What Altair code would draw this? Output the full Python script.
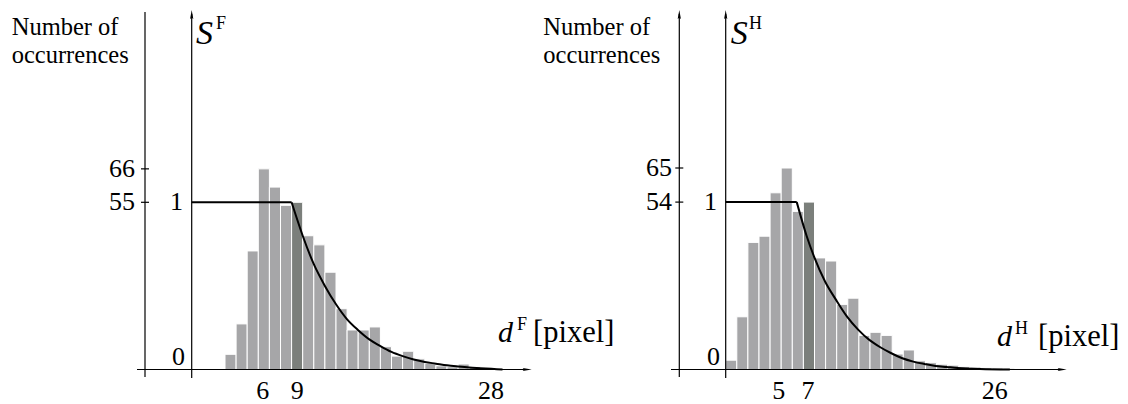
import altair as alt
import pandas as pd

# ---------------- data ----------------
left_d = list(range(3, 28))
left_counts = [5, 15, 39, 66, 60, 54, 55, 44, 41, 32, 20, 13, 13, 14, 7.5, 4.4, 6,
               3.5, 2, 1.2, 0.9, 1.8, 1, 0.5, 0.3]
left_highlight = 9
left_curve_d = [0, 9, 10, 11, 12, 13, 14, 15, 16, 17, 18, 19, 20, 21, 22, 23, 24,
                25, 26, 27, 28]
left_curve_s = [1, 1, 0.80, 0.63, 0.50, 0.39, 0.30, 0.235, 0.18, 0.14, 0.105, 0.08,
                0.06, 0.045, 0.035, 0.025, 0.018, 0.012, 0.008, 0.004, 0.0]
left_kink = 9
left_count_ticks = [66, 55]
left_x_ticks = [6, 9, 28]

right_d = list(range(0, 26))
right_counts = [3, 17, 41, 43, 57, 65, 51, 54, 36, 35, 21, 23, 11, 12, 11, 5, 6.3,
                2.8, 2.2, 1.7, 1.4, 1.0, 0.8, 0.6, 0.5, 0.4]
right_highlight = 7
right_curve_d = [0, 6.4, 7.3, 7.95, 8.95, 9.94, 10.93, 11.95, 12.94, 13.93, 14.92,
                 15.91, 16.9, 17.9, 18.9, 19.9, 20.9, 22.9, 25.6]
right_curve_s = [1, 1, 0.796, 0.676, 0.526, 0.416, 0.316, 0.237, 0.177, 0.133, 0.097,
                 0.067, 0.047, 0.033, 0.021, 0.015, 0.009, 0.003, 0.0]
right_kink = 6.4
right_count_ticks = [65, 54]
right_x_ticks = [5, 7, 26]

s_ticks = [1, 0]
count_title = ["Number of", "occurrences"]
left_names = {"s": "S", "sup": "F", "d": "d", "unit": "[pixel]"}
right_names = {"s": "S", "sup": "H", "d": "d", "unit": "[pixel]"}

# ---------------- layout / style ----------------
W, H = 1112, 396
PXD = 11.1
FONT = "Liberation Serif"
LIGHT = "#a6a6a8"
DARK = "#7b7f7b"
AXW = 1.2

P = {
    "L": dict(axis0=183.7, base=361.5, ppc=3.04, sref=55, outer=137.0, outer_top=4,
              outer_arrow=False, xstart=129, xtip=523.7, lab_right=127,
              one_right=175, zero_right=177, title_x=3.7,
              s_x=188, sup_x=208, d_x=490, dsup_x=509, unit_x=525, d_base=334,
              xnudge=[-1, 0, -17]),
    "R": dict(axis0=717.7, base=361.5, ppc=3.1, sref=54, outer=671.3, outer_top=6,
              outer_arrow=True, xstart=663, xtip=1058.7, lab_right=664,
              one_right=709, zero_right=712, title_x=535.3,
              s_x=722.7, sup_x=741, d_x=989, dsup_x=1007, unit_x=1030, d_base=338,
              xnudge=[-8, -1, -25]),
}

ONE = pd.DataFrame({"k": [0]})
UP = "M0,-1L-0.36,1L0,0.7L0.36,1Z"
RIGHT = "M1,0L-1,-0.36L-0.7,0L-1,0.36Z"


def xs(p):
    return alt.Scale(domain=[-p["axis0"] / PXD, (W - p["axis0"]) / PXD], nice=False, zero=False)


def ycs(p):
    return alt.Scale(domain=[(p["base"] - H) / p["ppc"], p["base"] / p["ppc"]], nice=False, zero=False)


def yss(p):
    k = p["ppc"] * p["sref"]
    return alt.Scale(domain=[(p["base"] - H) / k, p["base"] / k], nice=False, zero=False)


def txt(s, x, y, size=26, italic=False, align="left", baseline="alphabetic"):
    return alt.Chart(ONE).mark_text(
        text=s, font=FONT, fontSize=size, fontStyle="italic" if italic else "normal",
        align=align, baseline=baseline, color="black"
    ).encode(x=alt.value(x), y=alt.value(y))


def vrule(x, y1, y2):
    return alt.Chart(ONE).mark_rule(color="black", strokeWidth=AXW).encode(
        x=alt.value(x), y=alt.value(y1), y2=alt.value(y2))


def hrule(y, x1, x2):
    return alt.Chart(ONE).mark_rule(color="black", strokeWidth=AXW).encode(
        y=alt.value(y), x=alt.value(x1), x2=alt.value(x2))


def arrow(x, y, shape):
    return alt.Chart(ONE).mark_point(shape=shape, filled=True, color="black", opacity=1,
                                     size=81, strokeWidth=0).encode(
        x=alt.value(x), y=alt.value(y))


def panel(key, d, counts, hl, cd, cs, kink, cticks, xticks, names):
    p = P[key]
    layers = []
    bars = pd.DataFrame({"d": d, "count": counts})
    layers.append(
        alt.Chart(bars).transform_calculate(d_end="datum.d + 1").mark_rect(
            stroke="white", strokeWidth=1).encode(
            x=alt.X("d:Q", scale=xs(p), axis=None),
            x2="d_end:Q",
            y=alt.Y("count:Q", scale=ycs(p), axis=None),
            y2=alt.Y2(datum=0),
            color=alt.condition(alt.datum.d == hl, alt.value(DARK), alt.value(LIGHT)),
        ))
    curve = pd.DataFrame({"d": cd, "s": cs})
    layers.append(
        alt.Chart(curve).transform_filter(alt.datum.d <= kink).mark_line(
            color="black", strokeWidth=2).encode(
            x=alt.X("d:Q", scale=xs(p), axis=None),
            y=alt.Y("s:Q", scale=yss(p), axis=None)))
    layers.append(
        alt.Chart(curve).transform_filter(alt.datum.d >= kink).mark_line(
            color="black", strokeWidth=2, interpolate="monotone").encode(
            x=alt.X("d:Q", scale=xs(p), axis=None),
            y=alt.Y("s:Q", scale=yss(p), axis=None)))
    # axes
    layers.append(vrule(p["outer"], p["outer_top"], 369))
    if p["outer_arrow"]:
        layers.append(arrow(p["outer"], 6.5, UP))
    layers.append(vrule(p["axis0"], 6, 370))
    layers.append(arrow(p["axis0"], 6.5, UP))
    layers.append(hrule(p["base"], p["xstart"], p["xtip"] - 4))
    layers.append(arrow(p["xtip"] - 4.5, p["base"], RIGHT))
    ct = pd.DataFrame({"v": cticks})
    layers.append(
        alt.Chart(ct).mark_rule(color="black", strokeWidth=AXW).encode(
            y=alt.Y("v:Q", scale=ycs(p), axis=None),
            x=alt.value(p["outer"] - 4), x2=alt.value(p["outer"] + 4)))
    layers.append(
        alt.Chart(ct).mark_text(font=FONT, fontSize=26, align="right", baseline="middle",
                                color="black").encode(
            y=alt.Y("v:Q", scale=ycs(p), axis=None),
            x=alt.value(p["lab_right"]), text="v:Q"))
    # S-axis labels
    layers.append(
        alt.Chart(pd.DataFrame({"v": [s_ticks[0]]})).mark_text(
            font=FONT, fontSize=26, align="right", baseline="middle", color="black").encode(
            y=alt.Y("v:Q", scale=yss(p), axis=None), x=alt.value(p["one_right"]), text="v:Q"))
    layers.append(
        alt.Chart(pd.DataFrame({"v": [s_ticks[1]]})).mark_text(
            font=FONT, fontSize=26, align="right", baseline="middle", color="black", dy=-13).encode(
            y=alt.Y("v:Q", scale=yss(p), axis=None), x=alt.value(p["zero_right"]), text="v:Q"))
    # x tick labels
    for v, nud in zip(xticks, p["xnudge"]):
        layers.append(
            alt.Chart(pd.DataFrame({"v": [v]})).transform_calculate(pos="datum.v + 0.5").mark_text(
                font=FONT, fontSize=26, align="center", baseline="alphabetic", color="black",
                dx=nud).encode(
                x=alt.X("pos:Q", scale=xs(p), axis=None), y=alt.value(391), text="v:Q"))
    # titles
    layers.append(txt(count_title[0], p["title_x"], 27, size=24.5))
    layers.append(txt(count_title[1], p["title_x"], 55, size=24.5))
    layers.append(txt(names["s"], p["s_x"], 36, size=34, italic=True))
    layers.append(txt(names["sup"], p["sup_x"], 21, size=18))
    layers.append(txt(names["d"], p["d_x"], p["d_base"], size=30, italic=True))
    layers.append(txt(names["sup"], p["dsup_x"], p["d_base"] - 12, size=18))
    layers.append(txt(names["unit"], p["unit_x"], p["d_base"], size=30.5))
    return layers


layers = panel("L", left_d, left_counts, left_highlight, left_curve_d, left_curve_s,
               left_kink, left_count_ticks, left_x_ticks, left_names)
layers += panel("R", right_d, right_counts, right_highlight, right_curve_d, right_curve_s,
                right_kink, right_count_ticks, right_x_ticks, right_names)

chart = alt.layer(*layers).resolve_scale(x="independent", y="independent").properties(
    width=W, height=H, padding=0, autosize=alt.AutoSizeParams(type="none"),
    background="white",
).configure_view(stroke=None)

chart.save("out.html", embed_options={"renderer": "svg", "actions": False})
